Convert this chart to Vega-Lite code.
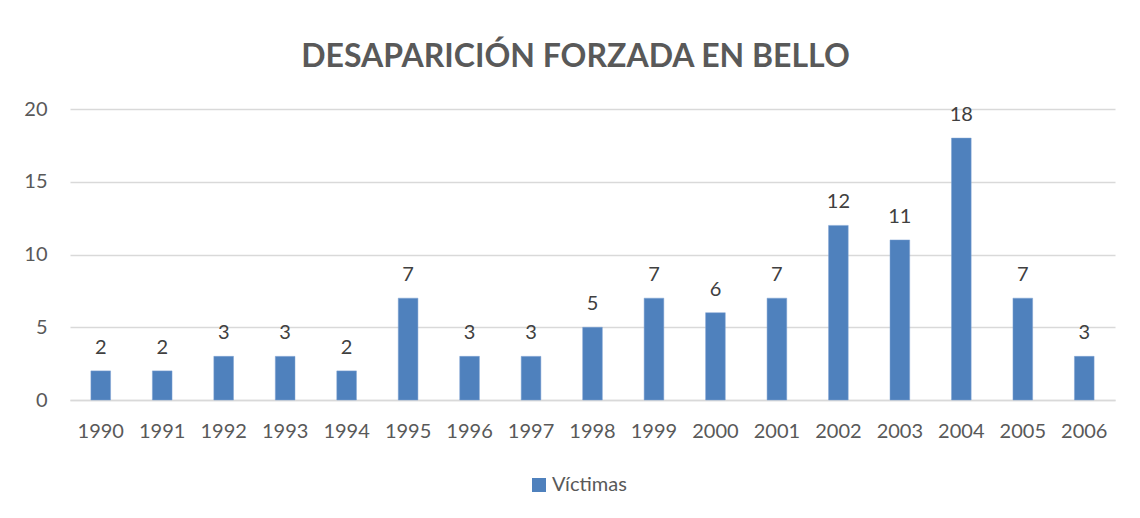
{
  "$schema": "https://vega.github.io/schema/vega-lite/v6.json",
  "autosize": {"type": "none"},
  "width": 1045,
  "height": 291,
  "padding": {"left": 70, "top": 109, "right": 25, "bottom": 118},
  "background": "white",
  "title": {
    "text": "DESAPARICIÓN FORZADA EN BELLO",
    "font": "Lato",
    "fontSize": 32,
    "fontWeight": "bold",
    "color": "#595959",
    "anchor": "middle",
    "dx": -17,
    "baseline": "alphabetic",
    "offset": 0
  },
  "config": {
    "view": {"stroke": null},
    "font": "Lato"
  },
  "data": {
    "values": [
      {"anio": "1990", "serie": "Víctimas", "v": 2},
      {"anio": "1991", "serie": "Víctimas", "v": 2},
      {"anio": "1992", "serie": "Víctimas", "v": 3},
      {"anio": "1993", "serie": "Víctimas", "v": 3},
      {"anio": "1994", "serie": "Víctimas", "v": 2},
      {"anio": "1995", "serie": "Víctimas", "v": 7},
      {"anio": "1996", "serie": "Víctimas", "v": 3},
      {"anio": "1997", "serie": "Víctimas", "v": 3},
      {"anio": "1998", "serie": "Víctimas", "v": 5},
      {"anio": "1999", "serie": "Víctimas", "v": 7},
      {"anio": "2000", "serie": "Víctimas", "v": 6},
      {"anio": "2001", "serie": "Víctimas", "v": 7},
      {"anio": "2002", "serie": "Víctimas", "v": 12},
      {"anio": "2003", "serie": "Víctimas", "v": 11},
      {"anio": "2004", "serie": "Víctimas", "v": 18},
      {"anio": "2005", "serie": "Víctimas", "v": 7},
      {"anio": "2006", "serie": "Víctimas", "v": 3}
    ]
  },
  "encoding": {
    "x": {
      "field": "anio",
      "type": "ordinal",
      "scale": {"paddingInner": 0.68, "paddingOuter": 0.34},
      "axis": {
        "title": null,
        "labelAngle": 0,
        "labelFont": "Lato",
        "labelFontSize": 20,
        "labelColor": "#595959",
        "labelPadding": 21,
        "ticks": false,
        "domainColor": "#d9d9d9",
        "domainWidth": 1.5
      }
    },
    "y": {
      "field": "v",
      "type": "quantitative",
      "scale": {"domain": [0, 20], "nice": false},
      "axis": {
        "title": null,
        "values": [0, 5, 10, 15, 20],
        "labelFont": "Lato",
        "labelFontSize": 20,
        "labelColor": "#595959",
        "labelPadding": 23,
        "ticks": false,
        "domain": false,
        "gridColor": "#d9d9d9",
        "gridWidth": 1.5
      }
    }
  },
  "layer": [
    {
      "mark": {"type": "bar", "color": "#4F81BD", "stroke": "#7FA3D3", "strokeWidth": 0.5},
      "encoding": {
        "color": {
          "field": "serie",
          "type": "nominal",
          "scale": {"range": ["#4F81BD"]},
          "legend": {
            "title": null,
            "orient": "none",
            "legendX": 459,
            "legendY": 366,
            "direction": "horizontal",
            "symbolType": "square",
            "symbolSize": 196,
            "symbolStrokeWidth": 0,
            "symbolOffset": 0,
            "labelOffset": 3,
            "labelFont": "Lato",
            "labelFontSize": 20,
            "labelColor": "#595959",
            "padding": 0
          }
        }
      }
    },
    {
      "mark": {"type": "text", "baseline": "alphabetic", "dy": -17, "font": "Lato", "fontSize": 20, "color": "#404040"},
      "encoding": {
        "text": {"field": "v", "type": "quantitative"}
      }
    }
  ]
}
